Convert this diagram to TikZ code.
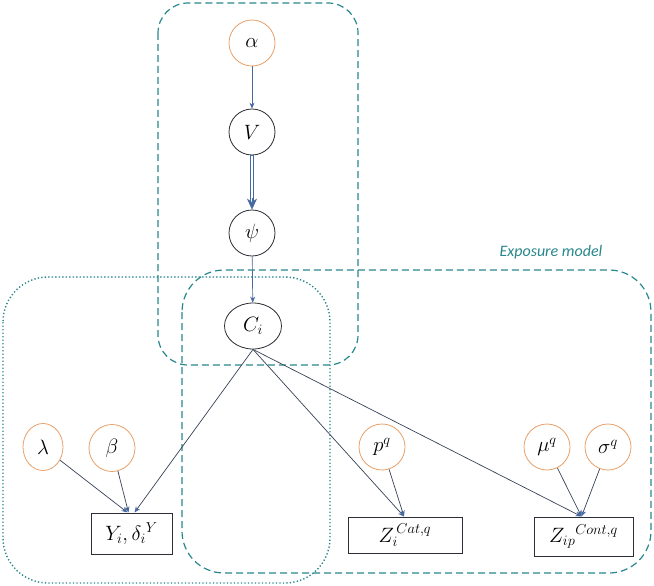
\documentclass[tikz,border=0pt]{standalone}
\usepackage{fontspec}
\newfontfamily\calib{Carlito}
\usetikzlibrary{shapes.geometric,arrows.meta}
\definecolor{tealc}{RGB}{40,135,140}
\definecolor{orangec}{RGB}{232,160,105}
\definecolor{arrc}{RGB}{70,105,160}
\definecolor{linec}{RGB}{55,65,85}
\definecolor{nodec}{RGB}{45,45,55}
\begin{document}
\begin{tikzpicture}[x=1pt,y=-1pt,
  hyper/.style={ellipse,draw=orangec,line width=0.8pt,minimum width=46pt,minimum height=46pt,inner sep=0pt,font=\fontsize{20}{24}\selectfont},
  latent/.style={ellipse,draw=nodec,line width=0.8pt,minimum width=46pt,minimum height=46pt,inner sep=0pt,font=\fontsize{20}{24}\selectfont},
  obs/.style={rectangle,draw=nodec,line width=1pt,inner sep=0pt,font=\fontsize{20}{24}\selectfont},
  edge/.style={draw=linec,line width=0.7pt,-{Stealth[length=6pt,width=5pt,color=arrc]}},
  plateA/.style={draw=tealc,line width=1.2pt,dash pattern=on 7pt off 4pt},
  plateB/.style={draw=tealc,line width=1.4pt,dash pattern=on 1.3pt off 2.2pt}
]
\useasboundingbox (0,0) rectangle (654,586);
% plates
\draw[plateA,rounded corners=30pt] (158,3) rectangle (358,365);
\draw[plateA,rounded corners=42pt] (182,270) rectangle (651,573);
\draw[plateB,rounded corners=45pt] (3,277) rectangle (330,583);
\node[font=\calib\itshape\fontsize{16}{19}\selectfont,text=tealc] (lab) at (551,252) {Exposure model};
% nodes
\node[hyper] (alpha) at (252,43) {$\alpha$};
\node[latent] (V) at (252,132) {$V$};
\node[latent] (psi) at (252,233) {$\psi$};
\node[latent,minimum width=57pt] (C) at (253,326) {$C_i$};
\node[hyper,minimum width=40pt,minimum height=47pt] (lambda) at (43,447) {$\lambda$};
\node[hyper,minimum height=47pt] (beta) at (112,448) {$\beta$};
\node[hyper] (p) at (382,447) {$p^q$};
\node[hyper] (mu) at (547,447) {$\mu^q$};
\node[hyper] (sigma) at (608,447) {$\sigma^q$};
\node[obs,minimum width=81pt,minimum height=41pt] (Y) at (131.5,533.5) {$Y_i,\delta_i{}^{Y}$};
\node[obs,minimum width=114pt,minimum height=36pt] (Zc) at (405,535) {$Z_i^{\,Cat,q}$};
\node[obs,minimum width=99pt,minimum height=39pt] (Zt) at (583.5,536.5) {$Z_{ip}{}^{Cont,q}$};
% edges
\draw[edge,draw=arrc] (alpha) -- (V);
\draw[draw=arrc,line width=3.2pt,shorten >=8pt] (V) -- (psi);
\draw[draw=white,line width=1.4pt,shorten >=8pt,shorten <=0.5pt] (V) -- (psi);
\draw[draw=arrc,line width=0.5pt,-{Stealth[length=11pt,width=10pt,color=arrc,fill=arrc]}] ([yshift=12pt]psi.north) -- (psi.north);
\draw[edge,draw=arrc] (psi) -- (C);
\coordinate (Cb) at (C.south);
\draw[edge] (Cb) -- ([xshift=3pt]Y.north);
\draw[edge] (Cb) -- ([xshift=-1pt]Zc.north);
\draw[edge] (Cb) -- ([xshift=-2pt]Zt.north);
\draw[edge] (lambda) -- ([xshift=-4pt]Y.north);
\draw[edge] (beta) -- ([xshift=-3pt]Y.north);
\draw[edge] (p) -- ([xshift=-1pt]Zc.north);
\draw[edge] (mu) -- ([xshift=-2pt]Zt.north);
\draw[edge] (sigma) -- ([xshift=-2pt]Zt.north);
\end{tikzpicture}
\end{document}
